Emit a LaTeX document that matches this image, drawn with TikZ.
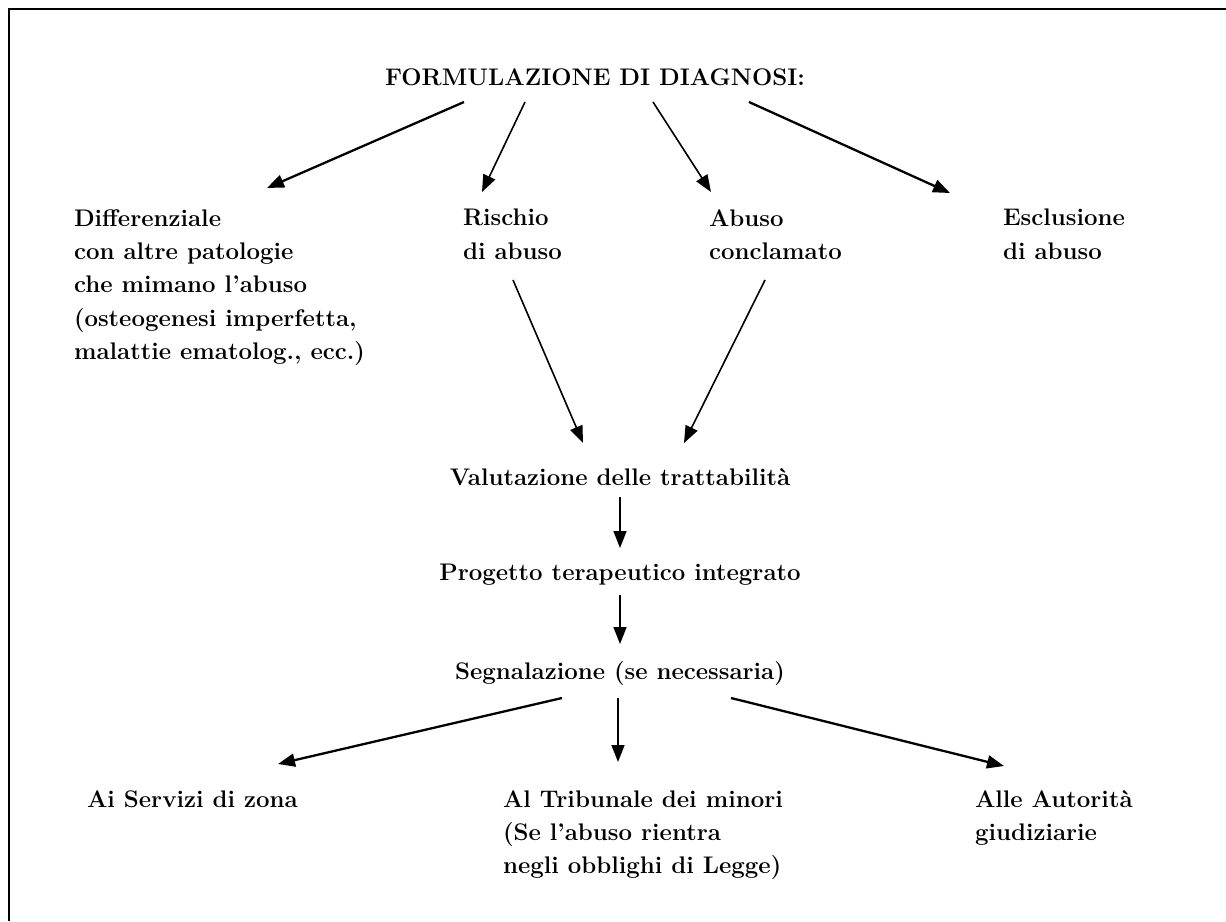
\documentclass[tikz,border=0pt]{standalone}
\usepackage{fontspec}
\usetikzlibrary{arrows.meta}
\begin{document}
\begin{tikzpicture}[x=1pt,y=-1pt,
  txt/.style={font=\fontsize{24}{33.3}\selectfont\bfseries, inner sep=0pt, outer sep=0pt},
  ml/.style={txt, align=left, anchor=north west},
  one/.style={txt, anchor=base},
  arr/.style={-{Triangle[length=17pt,width=13pt]}, line width=1.6pt},
  arrthick/.style={arr, line width=2.3pt},
  frame/.style={line width=2pt}]
\useasboundingbox (0,0) rectangle (1226,921);
\draw[frame] (8.5,921) -- (8.5,8.5) -- (1226,8.5);

\node[one] (title) at (595,85) {FORMULAZIONE DI DIAGNOSI:};
\node[ml] (diff) at (74,209.3) {Differenziale\\con altre patologie\\che mimano l’abuso\\(osteogenesi imperfetta,\\malattie ematolog., ecc.)};
\node[ml] (risk) at (463,209.3) {Rischio\\di abuso};
\node[ml] (abuso) at (709,209.3) {Abuso\\conclamato};
\node[ml] (escl) at (1003,209.3) {Esclusione\\di abuso};
\node[one] (valut) at (620,485) {Valutazione delle trattabilità};
\node[one] (prog) at (620,580) {Progetto terapeutico integrato};
\node[one] (segn) at (620,679) {Segnalazione (se necessaria)};
\node[txt, anchor=base west] (serv) at (87,807) {Ai Servizi di zona};
\node[ml] (trib) at (503,790.3) {Al Tribunale dei minori\\(Se l’abuso rientra\\negli obblighi di Legge)};
\node[ml] (aut) at (975,790.3) {Alle Autorità\\giudiziarie};

\draw[arrthick] ([shift={(-131,17)}]title.base) -- ([shift={(193,-21.3)}]diff.north west);
\draw[arr] ([shift={(-70,17)}]title.base) -- ([shift={(19,-17.3)}]risk.north west);
\draw[arr] ([shift={(58,17)}]title.base) -- ([shift={(2,-17.3)}]abuso.north west);
\draw[arrthick] ([shift={(154,17)}]title.base) -- ([shift={(-53,-16.3)}]escl.north west);
\draw[arr] ([shift={(50,70.7)}]risk.north west) -- ([shift={(-37,-42)}]valut.base);
\draw[arr] ([shift={(56,70.7)}]abuso.north west) -- ([shift={(64,-42)}]valut.base);
\draw[arr] ([shift={(0,12)}]valut.base) -- ([shift={(0,-32)}]prog.base);
\draw[arr] ([shift={(0,15)}]prog.base) -- ([shift={(0,-35)}]segn.base);
\draw[arrthick] ([shift={(-58,19)}]segn.base) -- ([shift={(191,-43)}]serv.base west);
\draw[arr] ([shift={(-2,19)}]segn.base) -- ([shift={(115,-28.3)}]trib.north west);
\draw[arrthick] ([shift={(111,19)}]segn.base) -- ([shift={(29,-24.3)}]aut.north west);
\end{tikzpicture}
\end{document}
